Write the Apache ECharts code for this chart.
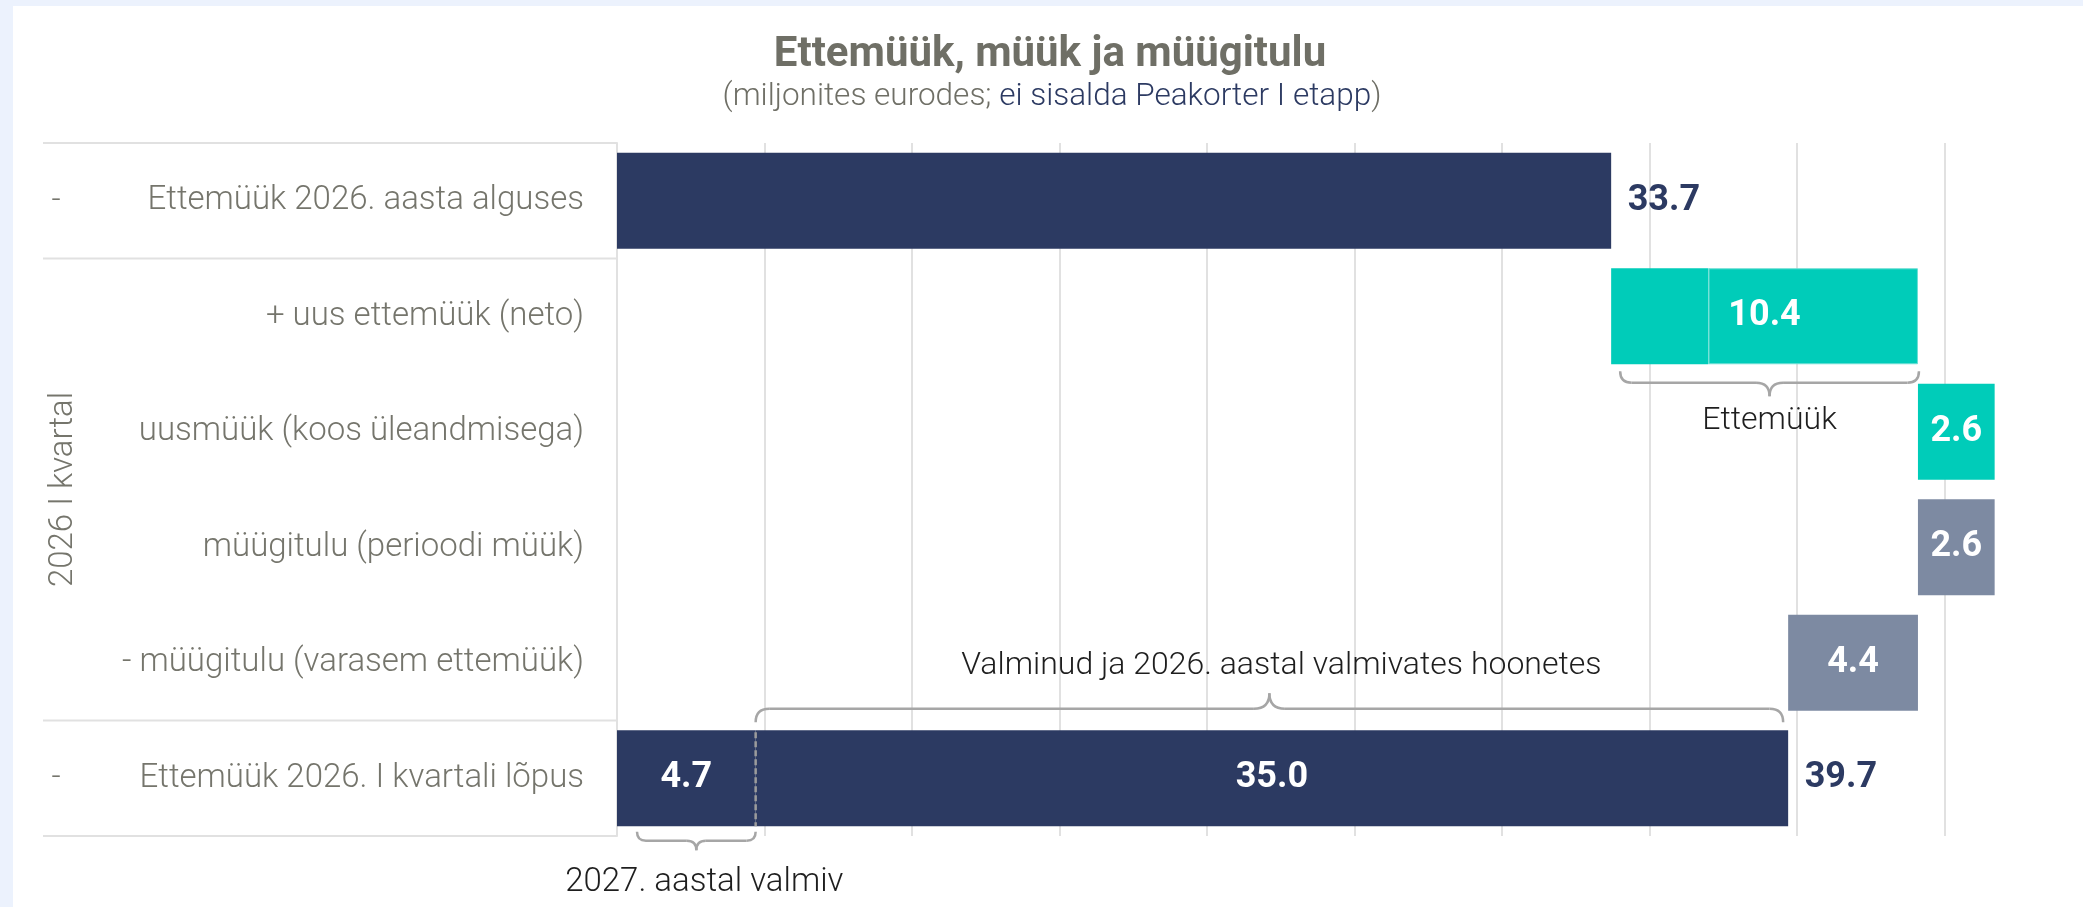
<!DOCTYPE html>
<html><head><meta charset="utf-8">
<script src="https://cdn.jsdelivr.net/npm/echarts@6/dist/echarts.min.js"></script>
<style>
html,body{margin:0;padding:0;width:2083px;height:907px;background:#ECF2FD;overflow:hidden}
#card{position:absolute;left:13px;top:6px;width:2070px;height:901px;background:#fff}
#chart{position:absolute;left:0;top:0;width:2083px;height:907px}
</style></head><body><div id="card"></div><div id="chart"></div>
<script>
// ---------------- data ----------------
const categories = [
  'Ettemüük 2026. aasta alguses',
  '+ uus ettemüük (neto)',
  'uusmüük (koos üleandmisega)',
  'müügitulu (perioodi müük)',
  '- müügitulu (varasem ettemüük)',
  'Ettemüük 2026. I kvartali lõpus'
];
const rowMarks = ['-', '', '', '', '', '-'];
const groupLabel = '2026 I kvartal';
const openingBalance = 33.7;
const newPresaleTotal = 10.4;
const newPresaleParts = [3.3, 7.1];
const newSales = 2.6;
const periodRevenue = 2.6;
const priorPresaleRevenue = 4.4;
const closingParts = [4.7, 35.0];
const closingBalance = 39.7;
const titleText = 'Ettemüük, müük ja müügitulu';
const subtitleGray = '(miljonites eurodes; ';
const subtitleBlue = 'ei sisalda Peakorter I etapp';
const subtitleEnd = ')';
const braceTexts = ['Ettemüük', 'Valminud ja 2026. aastal valmivates hoonetes', '2027. aastal valmiv'];
const axisMin = 0, axisMax = 47, axisStep = 5;

// ---------------- style ----------------
const NAVY = '#2C3A62', TEAL = '#00CCB9', SLATE = '#7D8AA2';
const GRIDC = '#E1E1E1', LABELC = '#75756C', TITLEC = '#6F6F66', BRACEC = '#A6A6A6';
const FONT = 'Roboto, "Noto Sans", sans-serif';
const GRID = { left: 617, top: 143, width: 1386.5, height: 693 };

const r1 = v => Math.round(v * 10) / 10;
const afterNew = r1(openingBalance + newPresaleTotal);
const afterSales = r1(afterNew + newSales);
const afterRevenue = r1(afterSales - periodRevenue);
const afterPrior = r1(afterRevenue - priorPresaleRevenue);
const base = [0, openingBalance, afterNew, afterRevenue, afterPrior, 0];

const inLabel = { show: true, position: 'inside', color: '#fff', fontFamily: FONT, fontWeight: 'bold', fontSize: 36,
  formatter: p => Number(p.value).toFixed(1) };
const noLabel = { show: false };
const item = (v, lab) => v === '-' ? '-' : { value: v, label: lab };

const chart = echarts.init(document.getElementById('chart'));
chart.setOption({
  animation: false,
  backgroundColor: 'transparent',
  grid: { left: GRID.left, top: GRID.top, width: GRID.width, height: GRID.height, containLabel: false },
  xAxis: {
    type: 'value', min: axisMin, max: axisMax, interval: axisStep,
    axisLabel: { show: false }, axisLine: { show: false }, axisTick: { show: false },
    splitLine: { show: true, showMaxLine: false, lineStyle: { color: GRIDC, width: 2 } }
  },
  yAxis: {
    type: 'category', inverse: true, data: categories,
    axisLine: { show: true, lineStyle: { color: GRIDC, width: 2 } },
    axisTick: { show: false },
    axisLabel: { color: LABELC, fontFamily: FONT, fontWeight: 300, fontSize: 33, margin: 33 }
  },
  series: [
    { type: 'bar', stack: 'w', barWidth: 96, silent: true, itemStyle: { color: 'transparent' }, data: base },
    { type: 'bar', stack: 'w', itemStyle: { color: NAVY },
      data: [item(openingBalance, noLabel), '-', '-', '-', '-', item(closingParts[0], inLabel)] },
    { type: 'bar', stack: 'w', itemStyle: { color: TEAL },
      data: ['-', item(newPresaleParts[0], noLabel), item(newSales, inLabel), '-', '-', '-'] },
    { type: 'bar', stack: 'w', itemStyle: { color: TEAL, borderColor: '#6CDFD4', borderWidth: 1 },
      data: ['-', item(newPresaleParts[1], noLabel), '-', '-', '-', '-'] },
    { type: 'bar', stack: 'w', itemStyle: { color: SLATE },
      data: ['-', '-', '-', item(periodRevenue, inLabel), item(priorPresaleRevenue, inLabel), '-'] },
    { type: 'bar', stack: 'w', itemStyle: { color: NAVY },
      data: ['-', '-', '-', '-', '-', item(closingParts[1], inLabel)] },
    { type: 'scatter', symbolSize: 1, itemStyle: { color: 'transparent', opacity: 1 }, z: 5, silent: true,
      label: { show: true, position: 'right', distance: 16, color: NAVY, fontFamily: FONT, fontWeight: 'bold', fontSize: 36,
        formatter: p => Number(p.value[0]).toFixed(1) },
      data: [[openingBalance, 0], [closingBalance, 5]] },
    { type: 'scatter', symbolSize: 1, itemStyle: { color: 'transparent', opacity: 1 }, z: 5, silent: true,
      label: { show: true, position: 'inside', color: '#fff', fontFamily: FONT, fontWeight: 'bold', fontSize: 36,
        formatter: () => newPresaleTotal.toFixed(1) },
      data: [[r1(openingBalance + newPresaleTotal / 2), 1]] }
  ]
});

// ---------------- annotations ----------------
const px = (x, row) => chart.convertToPixel({ gridIndex: 0 }, [x, row]);
const bandH = GRID.height / categories.length;
const halfBar = 48;

const g = [];
const txt = (x, y, text, o) => { const e = { type: 'text', x, y, silent: true, z: 10,
  style: Object.assign({ text, fontFamily: FONT, fontWeight: 300, fontSize: 32, fill: '#1E1E1E', align: 'center', verticalAlign: 'middle' }, o || {}) };
  g.push(e); return e; };
const line = (x1, y1, x2, y2, st) => g.push({ type: 'line', silent: true, z: 10, shape: { x1, y1, x2, y2 },
  style: Object.assign({ stroke: GRIDC, lineWidth: 2 }, st || {}) });
const braceStyle = { stroke: BRACEC, lineWidth: 2.5, fill: null };
const curve = (x1, y1, cx, cy, x2, y2) => g.push({ type: 'bezierCurve', silent: true, z: 10,
  shape: { x1, y1, x2, y2, cpx1: cx, cpy1: cy }, style: Object.assign({}, braceStyle) });
function brace(x1, x2, yEnd, yLine, yTip) {
  const r = Math.abs(yLine - yEnd), t = Math.abs(yTip - yLine), xm = (x1 + x2) / 2;
  curve(x1, yEnd, x1, yLine, x1 + r, yLine);
  line(x1 + r, yLine, xm - t, yLine, braceStyle);
  curve(xm - t, yLine, xm, yLine, xm, yTip);
  curve(xm, yTip, xm, yLine, xm + t, yLine);
  line(xm + t, yLine, x2 - r, yLine, braceStyle);
  curve(x2 - r, yLine, x2, yLine, x2, yEnd);
}

// table lines
[0, 1, 5, 6].forEach(k => line(43, GRID.top + k * bandH, GRID.left, GRID.top + k * bandH));
// row marks
rowMarks.forEach((m, i) => { if (m) txt(56, px(0, i)[1], m, { fill: LABELC, fontSize: 32 }); });
// group label (rotated)
const gl = txt(64, GRID.top + 3 * bandH, groupLabel, { fill: LABELC, fontSize: 33 });
gl.rotation = Math.PI / 2;

// title & subtitle
txt(1050, 55, titleText, { fill: TITLEC, fontWeight: 'bold', fontSize: 42 });
g.push({ type: 'text', x: 1052, y: 97, silent: true, style: {
  text: '{a|' + subtitleGray + '}{b|' + subtitleBlue + '}{a|' + subtitleEnd + '}',
  align: 'center', verticalAlign: 'middle',
  rich: { a: { fontFamily: FONT, fontWeight: 300, fontSize: 31.5, fill: TITLEC, color: TITLEC },
          b: { fontFamily: FONT, fontWeight: 300, fontSize: 31.5, fill: NAVY, color: NAVY } } } });

// brace under "+ uus ettemüük"
const r2 = px(openingBalance, 1)[1];
const b1x1 = px(openingBalance, 1)[0] + 9, b1x2 = px(afterNew, 1)[0] + 1;
const b1y = r2 + halfBar;
brace(b1x1, b1x2, b1y + 7, b1y + 18.5, b1y + 32);
txt((b1x1 + b1x2) / 2, b1y + 57, braceTexts[0]);

// closing row
const r6 = px(0, 5)[1];
const divX = px(closingParts[0], 5)[0];
line(divX, r6 - halfBar + 2, divX, r6 + halfBar, { stroke: '#9C9C9C', lineWidth: 2.5, lineDash: [6, 3] });
const b2x2 = px(closingBalance, 5)[0] - 5;
const topY = r6 - halfBar;
brace(divX, b2x2, topY - 8, topY - 21.5, topY - 37);
txt((divX + b2x2) / 2 + 12, topY - 64, braceTexts[1]);
const b3x1 = px(0, 5)[0] + 20;
const botY = r6 + halfBar;
brace(b3x1, divX, botY + 5.5, botY + 14.5, botY + 24);
txt((b3x1 + divX) / 2 + 8, botY + 56, braceTexts[2], { fontSize: 33 });

chart.setOption({ graphic: g });
</script></body></html>
